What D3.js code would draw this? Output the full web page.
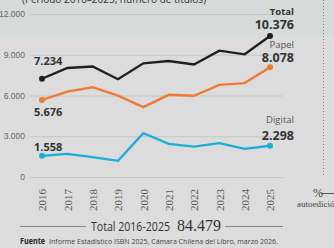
<!DOCTYPE html>
<html>
<head>
<meta charset="utf-8">
<script src="https://cdn.jsdelivr.net/npm/d3@7"></script>
<style>
  html, body { margin: 0; padding: 0; background: #dcdcdc; }
  svg { display: block; }
</style>
</head>
<body>
<svg id="chart" width="334" height="248"></svg>
<script>
// Data (número de títulos ISBN, Chile)
const years = [2016, 2017, 2018, 2019, 2020, 2021, 2022, 2023, 2024, 2025];
const total = [7234, 8025, 8140, 7200, 8370, 8540, 8280, 9300, 9030, 10376];
const papel = [5676, 6290, 6610, 5990, 5140, 6050, 5980, 6780, 6910, 8078];
const digital = [1558, 1700, 1460, 1190, 3220, 2440, 2240, 2490, 2070, 2298];
const yTicks = [0, 3000, 6000, 9000, 12000];
const grandTotal = 84479;

const series = [
  { name: 'Total', values: total, color: '#1f1f1f' },
  { name: 'Papel', values: papel, color: '#ee7a34' },
  { name: 'Digital', values: digital, color: '#1aaed9' }
];

const es = d3.formatLocale({ decimal: ',', thousands: '.', grouping: [3], currency: ['$', ''] });
const fmt = es.format(',d');

const svg = d3.select('#chart');
const sans = '"Open Sans", sans-serif';
const narrow = '"Liberation Sans Narrow", "Liberation Sans", sans-serif';
const serif = '"Liberation Serif", serif';

// top band
svg.append('rect').attr('x', 0).attr('y', 0).attr('width', 334).attr('height', 36).attr('fill', '#d4dbd8');

// title (cut off at the top)
svg.append('text')
  .attr('x', 22).attr('y', 3)
  .style('font-family', sans).style('font-size', '10px').attr('fill', '#333')
  .text('(Período 2016–2025, número de títulos)');

// vertical dotted separator
svg.append('line')
  .attr('x1', 323.5).attr('x2', 323.5).attr('y1', 0).attr('y2', 175)
  .attr('stroke', '#888').attr('stroke-width', 1).attr('stroke-dasharray', '1,2');

const x = d3.scalePoint().domain(years).range([42, 270]);
const y = d3.scaleLinear().domain([0, 12000]).range([177, 14]);

// y axis with gridlines
const yAxis = svg.append('g')
  .attr('transform', 'translate(283,0)')
  .call(d3.axisLeft(y).tickValues(yTicks).tickSize(253).tickPadding(5).tickFormat(fmt));
yAxis.select('.domain').remove();
yAxis.selectAll('line').attr('stroke', '#c4c7c6').attr('stroke-width', 1.2);
yAxis.selectAll('text')
  .style('font-family', narrow).style('font-size', '8.5px').attr('fill', '#666');

// x axis: rotated year labels
const xAxis = svg.append('g')
  .attr('transform', 'translate(0,211)')
  .call(d3.axisBottom(x).tickSize(0).tickPadding(0));
xAxis.select('.domain').remove();
xAxis.selectAll('text')
  .attr('transform', 'rotate(-90)')
  .attr('x', 0).attr('y', 0).attr('dy', '0.35em')
  .style('text-anchor', 'start')
  .style('font-family', serif).style('font-size', '11px').attr('fill', '#555');

// lines
const line = d3.line().x((d, i) => x(years[i])).y(d => y(d));
series.forEach(s => {
  svg.append('path')
    .datum(s.values)
    .attr('d', line)
    .attr('fill', 'none')
    .attr('stroke', s.color)
    .attr('stroke-width', 2.4)
    .attr('stroke-linejoin', 'miter');
  const ends = [0, s.values.length - 1];
  svg.selectAll(null)
    .data(ends)
    .enter()
    .append('circle')
    .attr('cx', i => x(years[i]))
    .attr('cy', i => y(s.values[i]))
    .attr('r', 3)
    .attr('fill', s.color);
});

// start value labels
const startLabels = [
  { v: total[0], y: 65 },
  { v: papel[0], y: 116 },
  { v: digital[0], y: 151 }
];
svg.selectAll('.start-label')
  .data(startLabels)
  .enter()
  .append('text')
  .attr('class', 'start-label')
  .attr('x', 34).attr('y', d => d.y)
  .style('font-family', sans).style('font-size', '11px').style('font-weight', 'bold')
  .attr('fill', '#333')
  .text(d => fmt(d.v));

// end labels
const endLabels = [
  { name: 'Total', v: total[9], ny: 15, vy: 28.5, bold: true },
  { name: 'Papel', v: papel[9], ny: 48, vy: 61.5, bold: false },
  { name: 'Digital', v: digital[9], ny: 123, vy: 139.5, bold: false }
];
endLabels.forEach(d => {
  svg.append('text')
    .attr('x', 294).attr('y', d.ny).attr('text-anchor', 'end')
    .style('font-family', sans).style('font-size', '9.5px')
    .style('font-weight', d.bold ? 'bold' : 'normal')
    .attr('fill', d.bold ? '#333' : '#555')
    .text(d.name);
  svg.append('text')
    .attr('x', 294).attr('y', d.vy).attr('text-anchor', 'end')
    .style('font-family', sans).style('font-size', '12.5px').style('font-weight', 'bold')
    .attr('fill', '#333')
    .text(fmt(d.v));
});

// total 2016-2025
svg.append('line').attr('x1', 20).attr('x2', 86).attr('y1', 226.5).attr('y2', 226.5)
  .attr('stroke', '#888').attr('stroke-width', 1);
svg.append('line').attr('x1', 225).attr('x2', 283).attr('y1', 226.5).attr('y2', 226.5)
  .attr('stroke', '#888').attr('stroke-width', 1);
svg.append('text')
  .attr('x', 91).attr('y', 231)
  .attr('textLength', 79).attr('lengthAdjust', 'spacingAndGlyphs')
  .style('font-family', sans).style('font-size', '12px').attr('fill', '#333')
  .text('Total 2016-2025');
svg.append('text')
  .attr('x', 177).attr('y', 231)
  .style('font-family', serif).style('font-size', '16px').attr('fill', '#333')
  .text(fmt(grandTotal));

// % autoedición (cut at right edge)
svg.append('text')
  .attr('x', 313).attr('y', 197)
  .style('font-family', serif).style('font-size', '12px').attr('fill', '#444')
  .text('%');
svg.append('line').attr('x1', 321).attr('x2', 334).attr('y1', 193.5).attr('y2', 193.5)
  .attr('stroke', '#555').attr('stroke-width', 1);
svg.append('text')
  .attr('x', 297).attr('y', 206.5)
  .style('font-family', serif).style('font-size', '9px').attr('fill', '#444')
  .text('autoedición');

// source
svg.append('text')
  .attr('x', 20).attr('y', 244)
  .attr('textLength', 25).attr('lengthAdjust', 'spacingAndGlyphs')
  .style('font-family', sans).style('font-size', '8px').style('font-weight', 'bold').attr('fill', '#222')
  .text('Fuente');
svg.append('text')
  .attr('x', 49).attr('y', 244)
  .attr('textLength', 229).attr('lengthAdjust', 'spacingAndGlyphs')
  .style('font-family', sans).style('font-size', '8px').attr('fill', '#444')
  .text('Informe Estadístico ISBN 2025, Cámara Chilena del Libro, marzo 2026.');
</script>
</body>
</html>
